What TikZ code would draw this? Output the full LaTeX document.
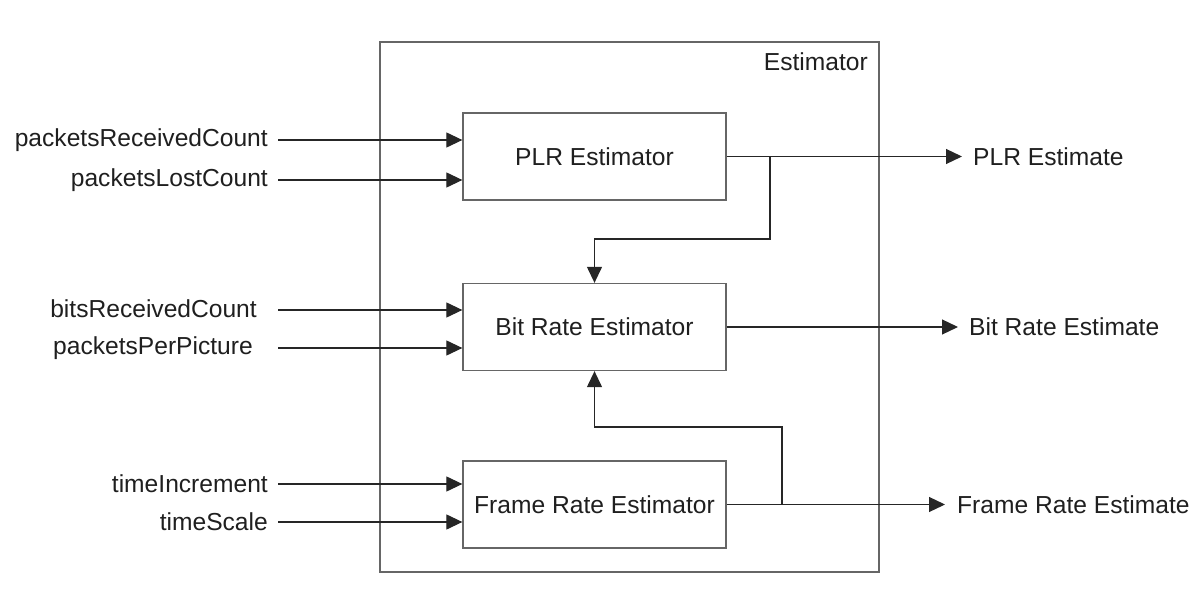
\documentclass[tikz,border=0pt]{standalone}
\usepackage{fontspec}
\setmainfont{Liberation Sans}
\usetikzlibrary{arrows.meta}
\begin{document}
\begin{tikzpicture}[x=1pt,y=-1pt,
  every node/.style={font=\fontsize{24.6}{30}\selectfont, text=black!88},
  blk/.style={draw=black!60, line width=1.3pt, minimum width=263pt, minimum height=87pt, inner sep=0pt},
  frame/.style={draw=black!60, line width=1.3pt},
  conn/.style={draw=black!85, line width=1.2pt},
  arr/.style={conn, -{Triangle[length=16pt,width=15pt]}},
  lbl/.style={inner sep=0pt}]
\useasboundingbox (0,0) rectangle (1200,604);
\draw[frame] (380,42) rectangle (879,572);
\node[lbl, anchor=east] (est) at (868,62) {Estimator};
% blocks
\node[blk] (plr) at (594.5,156.5) {PLR Estimator};
\node[blk] (bit) at (594.5,327) {Bit Rate Estimator};
\node[blk] (frm) at (594.5,504.5) {Frame Rate Estimator};
% input labels
\node[lbl, anchor=east] (l1) at (268,140) {packetsReceivedCount};
\node[lbl, anchor=east] (l2) at (268,180) {packetsLostCount};
\node[lbl, anchor=east] (l3) at (257,309) {bitsReceivedCount};
\node[lbl, anchor=east] (l4) at (253,348) {packetsPerPicture};
\node[lbl, anchor=east] (l5) at (268,484) {timeIncrement};
\node[lbl, anchor=east] (l6) at (268,522) {timeScale};
\coordinate (i1) at (278,140);
\coordinate (i2) at (278,180);
\coordinate (i3) at (278,310);
\coordinate (i4) at (278,348);
\coordinate (i5) at (278,484);
\coordinate (i6) at (278,522);
\draw[arr] (i1) -- (plr.west |- i1);
\draw[arr] (i2) -- (plr.west |- i2);
\draw[arr] (i3) -- (bit.west |- i3);
\draw[arr] (i4) -- (bit.west |- i4);
\draw[arr] (i5) -- (frm.west |- i5);
\draw[arr] (i6) -- (frm.west |- i6);
% outputs
\coordinate (o1) at (962,156.5);
\coordinate (o2) at (958,327);
\coordinate (o3) at (945,504.5);
\node[lbl, anchor=west] (r1) at (973,156.5) {PLR Estimate};
\node[lbl, anchor=west] (r2) at (969,327) {Bit Rate Estimate};
\node[lbl, anchor=west] (r3) at (957,504.5) {Frame Rate Estimate};
\draw[arr] (plr.east) -- (o1);
\draw[arr] (bit.east) -- (o2);
\draw[arr] (frm.east) -- (o3);
% feedback
\coordinate (b1) at (770,156.5);
\coordinate (b2) at (782,504.5);
\draw[arr] (b1) -- (770,239) -| (bit.north);
\draw[arr] (b2) -- (782,427) -| (bit.south);
\end{tikzpicture}
\end{document}
